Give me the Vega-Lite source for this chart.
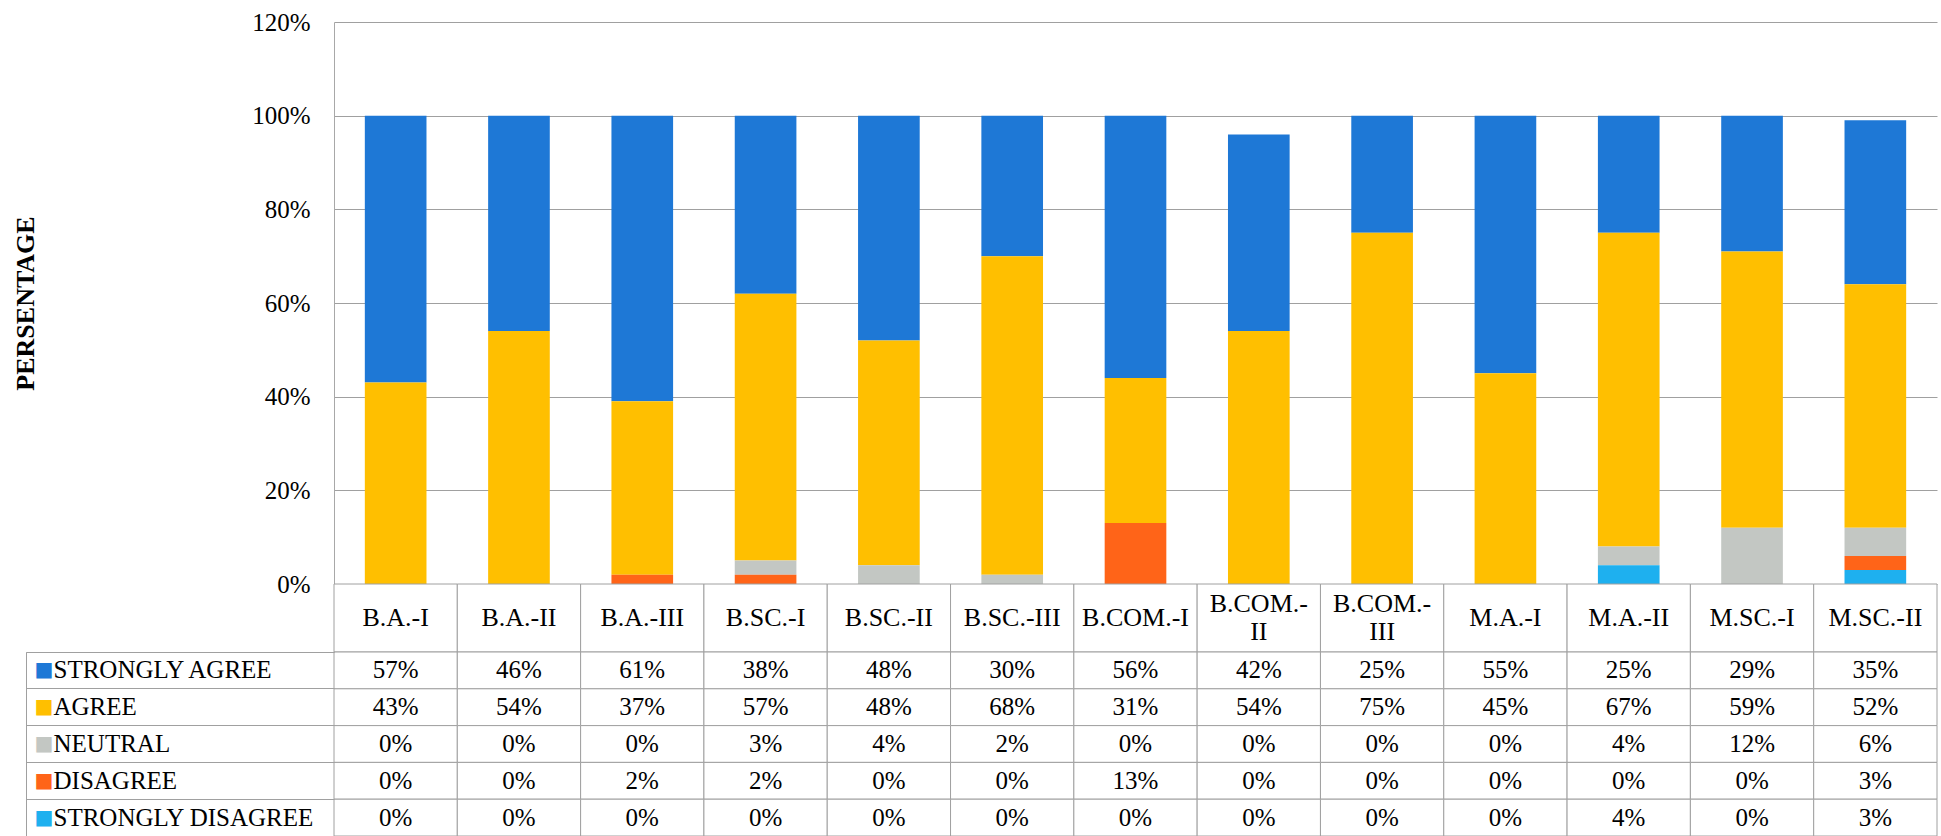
{
  "$schema": "https://vega.github.io/schema/vega-lite/v6.json",
  "padding": {"left": 12, "top": 10, "right": 0, "bottom": 0},
  "background": "white",
  "config": {
    "view": {"stroke": null},
    "font": "Liberation Serif",
    "axis": {"labelFont": "Liberation Serif", "titleFont": "Liberation Serif", "labelColor": "#000000", "titleColor": "#000000"}
  },
  "datasets": {
    "levels": [
      {"category": "STRONGLY DISAGREE", "score": 1},
      {"category": "DISAGREE", "score": 2},
      {"category": "NEUTRAL", "score": 3},
      {"category": "AGREE", "score": 4},
      {"category": "STRONGLY AGREE", "score": 5}
    ],
    "survey": [
      {"class": "B.A.-I", "category": "STRONGLY AGREE", "value": 0.57},
      {"class": "B.A.-II", "category": "STRONGLY AGREE", "value": 0.46},
      {"class": "B.A.-III", "category": "STRONGLY AGREE", "value": 0.61},
      {"class": "B.SC.-I", "category": "STRONGLY AGREE", "value": 0.38},
      {"class": "B.SC.-II", "category": "STRONGLY AGREE", "value": 0.48},
      {"class": "B.SC.-III", "category": "STRONGLY AGREE", "value": 0.30},
      {"class": "B.COM.-I", "category": "STRONGLY AGREE", "value": 0.56},
      {"class": "B.COM.-II", "category": "STRONGLY AGREE", "value": 0.42},
      {"class": "B.COM.-III", "category": "STRONGLY AGREE", "value": 0.25},
      {"class": "M.A.-I", "category": "STRONGLY AGREE", "value": 0.55},
      {"class": "M.A.-II", "category": "STRONGLY AGREE", "value": 0.25},
      {"class": "M.SC.-I", "category": "STRONGLY AGREE", "value": 0.29},
      {"class": "M.SC.-II", "category": "STRONGLY AGREE", "value": 0.35},
      {"class": "B.A.-I", "category": "AGREE", "value": 0.43},
      {"class": "B.A.-II", "category": "AGREE", "value": 0.54},
      {"class": "B.A.-III", "category": "AGREE", "value": 0.37},
      {"class": "B.SC.-I", "category": "AGREE", "value": 0.57},
      {"class": "B.SC.-II", "category": "AGREE", "value": 0.48},
      {"class": "B.SC.-III", "category": "AGREE", "value": 0.68},
      {"class": "B.COM.-I", "category": "AGREE", "value": 0.31},
      {"class": "B.COM.-II", "category": "AGREE", "value": 0.54},
      {"class": "B.COM.-III", "category": "AGREE", "value": 0.75},
      {"class": "M.A.-I", "category": "AGREE", "value": 0.45},
      {"class": "M.A.-II", "category": "AGREE", "value": 0.67},
      {"class": "M.SC.-I", "category": "AGREE", "value": 0.59},
      {"class": "M.SC.-II", "category": "AGREE", "value": 0.52},
      {"class": "B.A.-I", "category": "NEUTRAL", "value": 0},
      {"class": "B.A.-II", "category": "NEUTRAL", "value": 0},
      {"class": "B.A.-III", "category": "NEUTRAL", "value": 0},
      {"class": "B.SC.-I", "category": "NEUTRAL", "value": 0.03},
      {"class": "B.SC.-II", "category": "NEUTRAL", "value": 0.04},
      {"class": "B.SC.-III", "category": "NEUTRAL", "value": 0.02},
      {"class": "B.COM.-I", "category": "NEUTRAL", "value": 0},
      {"class": "B.COM.-II", "category": "NEUTRAL", "value": 0},
      {"class": "B.COM.-III", "category": "NEUTRAL", "value": 0},
      {"class": "M.A.-I", "category": "NEUTRAL", "value": 0},
      {"class": "M.A.-II", "category": "NEUTRAL", "value": 0.04},
      {"class": "M.SC.-I", "category": "NEUTRAL", "value": 0.12},
      {"class": "M.SC.-II", "category": "NEUTRAL", "value": 0.06},
      {"class": "B.A.-I", "category": "DISAGREE", "value": 0},
      {"class": "B.A.-II", "category": "DISAGREE", "value": 0},
      {"class": "B.A.-III", "category": "DISAGREE", "value": 0.02},
      {"class": "B.SC.-I", "category": "DISAGREE", "value": 0.02},
      {"class": "B.SC.-II", "category": "DISAGREE", "value": 0},
      {"class": "B.SC.-III", "category": "DISAGREE", "value": 0},
      {"class": "B.COM.-I", "category": "DISAGREE", "value": 0.13},
      {"class": "B.COM.-II", "category": "DISAGREE", "value": 0},
      {"class": "B.COM.-III", "category": "DISAGREE", "value": 0},
      {"class": "M.A.-I", "category": "DISAGREE", "value": 0},
      {"class": "M.A.-II", "category": "DISAGREE", "value": 0},
      {"class": "M.SC.-I", "category": "DISAGREE", "value": 0},
      {"class": "M.SC.-II", "category": "DISAGREE", "value": 0.03},
      {"class": "B.A.-I", "category": "STRONGLY DISAGREE", "value": 0},
      {"class": "B.A.-II", "category": "STRONGLY DISAGREE", "value": 0},
      {"class": "B.A.-III", "category": "STRONGLY DISAGREE", "value": 0},
      {"class": "B.SC.-I", "category": "STRONGLY DISAGREE", "value": 0},
      {"class": "B.SC.-II", "category": "STRONGLY DISAGREE", "value": 0},
      {"class": "B.SC.-III", "category": "STRONGLY DISAGREE", "value": 0},
      {"class": "B.COM.-I", "category": "STRONGLY DISAGREE", "value": 0},
      {"class": "B.COM.-II", "category": "STRONGLY DISAGREE", "value": 0},
      {"class": "B.COM.-III", "category": "STRONGLY DISAGREE", "value": 0},
      {"class": "M.A.-I", "category": "STRONGLY DISAGREE", "value": 0},
      {"class": "M.A.-II", "category": "STRONGLY DISAGREE", "value": 0.04},
      {"class": "M.SC.-I", "category": "STRONGLY DISAGREE", "value": 0},
      {"class": "M.SC.-II", "category": "STRONGLY DISAGREE", "value": 0.03}
    ]
  },
  "data": {"name": "survey"},
  "spacing": 0,
  "bounds": "flush",
  "vconcat": [
    {
      "width": 1603,
      "height": 562,
      "transform": [
        {"lookup": "category", "from": {"data": {"name": "levels"}, "key": "category", "fields": ["score"]}}
      ],
      "mark": {"type": "bar"},
      "encoding": {
        "x": {
          "field": "class", "type": "nominal",
          "sort": ["B.A.-I", "B.A.-II", "B.A.-III", "B.SC.-I", "B.SC.-II", "B.SC.-III", "B.COM.-I", "B.COM.-II", "B.COM.-III", "M.A.-I", "M.A.-II", "M.SC.-I", "M.SC.-II"],
          "scale": {"paddingInner": 0.5, "paddingOuter": 0.25},
          "axis": null
        },
        "y": {
          "field": "value", "type": "quantitative", "stack": "zero",
          "scale": {"domain": [0, 1.2], "nice": false},
          "axis": {
            "values": [0, 0.2, 0.4, 0.6, 0.8, 1.0, 1.2],
            "format": ".0%",
            "title": "PERSENTAGE",
            "titleFontSize": 26, "titleFontWeight": "bold", "titlePadding": 213,
            "labelFontSize": 25, "labelPadding": 24,
            "ticks": false,
            "domain": true, "domainColor": "#a8a8a8",
            "grid": true, "gridColor": "#a0a0a0", "gridWidth": 1
          }
        },
        "order": {"field": "score", "type": "quantitative", "sort": "ascending"},
        "color": {
          "field": "category", "type": "nominal",
          "scale": {
            "domain": ["STRONGLY DISAGREE", "DISAGREE", "NEUTRAL", "AGREE", "STRONGLY AGREE"],
            "range": ["#1eb0ef", "#ff6418", "#c3c7c3", "#ffbf00", "#1e78d6"]
          },
          "legend": null
        }
      }
    },
    {
      "width": 1603,
      "height": 68,
      "transform": [{"filter": "datum.category == 'STRONGLY AGREE'"}],
      "layer": [
        {
          "mark": {"type": "rect", "fill": "white", "stroke": "#a0a0a0", "strokeWidth": 1},
          "encoding": {
            "x": {
              "field": "class", "type": "nominal",
              "sort": ["B.A.-I", "B.A.-II", "B.A.-III", "B.SC.-I", "B.SC.-II", "B.SC.-III", "B.COM.-I", "B.COM.-II", "B.COM.-III", "M.A.-I", "M.A.-II", "M.SC.-I", "M.SC.-II"],
              "scale": {"paddingInner": 0, "paddingOuter": 0},
              "axis": null
            }
          }
        },
        {
          "mark": {
            "type": "text", "font": "Liberation Serif", "fontSize": 26, "lineHeight": 28, "color": "#000000",
            "text": {"expr": "datum['class'] == 'B.COM.-II' ? ['B.COM.-', 'II'] : datum['class'] == 'B.COM.-III' ? ['B.COM.-', 'III'] : datum['class']"},
            "dy": {"expr": "datum['class'] == 'B.COM.-II' || datum['class'] == 'B.COM.-III' ? -14 : 0"}
          },
          "encoding": {
            "x": {
              "field": "class", "type": "nominal",
              "sort": ["B.A.-I", "B.A.-II", "B.A.-III", "B.SC.-I", "B.SC.-II", "B.SC.-III", "B.COM.-I", "B.COM.-II", "B.COM.-III", "M.A.-I", "M.A.-II", "M.SC.-I", "M.SC.-II"],
              "scale": {"paddingInner": 0, "paddingOuter": 0},
              "axis": null
            }
          }
        }
      ]
    },
    {
      "width": 1603,
      "height": 184,
      "resolve": {"axis": {"y": "independent"}},
      "layer": [
        {
          "mark": {"type": "rect", "fill": "white", "stroke": "#a0a0a0", "strokeWidth": 1},
          "encoding": {
            "x": {
              "field": "class", "type": "nominal",
              "sort": ["B.A.-I", "B.A.-II", "B.A.-III", "B.SC.-I", "B.SC.-II", "B.SC.-III", "B.COM.-I", "B.COM.-II", "B.COM.-III", "M.A.-I", "M.A.-II", "M.SC.-I", "M.SC.-II"],
              "scale": {"paddingInner": 0, "paddingOuter": 0},
              "axis": null
            },
            "y": {
              "field": "category", "type": "nominal",
              "sort": ["STRONGLY AGREE", "AGREE", "NEUTRAL", "DISAGREE", "STRONGLY DISAGREE"],
              "scale": {"paddingInner": 0, "paddingOuter": 0},
              "axis": {
                "orient": "left", "title": null,
                "bandPosition": 0, "tickExtra": true, "ticks": true, "tickSize": 308, "tickColor": "#a0a0a0", "tickWidth": 1,
                "domain": false,
                "labelAlign": "left", "labelPadding": -27, "labelFontSize": 25, "labelFont": "Liberation Serif", "labelLimit": 0,
                "labelExpr": "datum.label == 'DISAGREE' ? ' DISAGREE' : datum.label"
              }
            }
          }
        },
        {
          "mark": {"type": "text", "font": "Liberation Serif", "fontSize": 25, "color": "#000000"},
          "encoding": {
            "x": {
              "field": "class", "type": "nominal",
              "sort": ["B.A.-I", "B.A.-II", "B.A.-III", "B.SC.-I", "B.SC.-II", "B.SC.-III", "B.COM.-I", "B.COM.-II", "B.COM.-III", "M.A.-I", "M.A.-II", "M.SC.-I", "M.SC.-II"],
              "scale": {"paddingInner": 0, "paddingOuter": 0},
              "axis": null
            },
            "y": {
              "field": "category", "type": "nominal",
              "sort": ["STRONGLY AGREE", "AGREE", "NEUTRAL", "DISAGREE", "STRONGLY DISAGREE"],
              "scale": {"paddingInner": 0, "paddingOuter": 0},
              "axis": {
                "orient": "left", "title": null, "offset": 308,
                "ticks": false, "tickSize": 0,
                "domain": true, "domainColor": "#a0a0a0",
                "labelAlign": "left", "labelPadding": -8, "labelFontSize": 20, "labelFont": "DejaVu Sans",
                "labelExpr": "'■'",
                "labelColor": {"expr": "datum.value == 'STRONGLY AGREE' ? '#1e78d6' : datum.value == 'AGREE' ? '#ffbf00' : datum.value == 'NEUTRAL' ? '#c3c7c3' : datum.value == 'DISAGREE' ? '#ff6418' : '#1eb0ef'"}
              }
            },
            "text": {"field": "value", "type": "quantitative", "format": ".0%"}
          }
        }
      ]
    }
  ]
}
